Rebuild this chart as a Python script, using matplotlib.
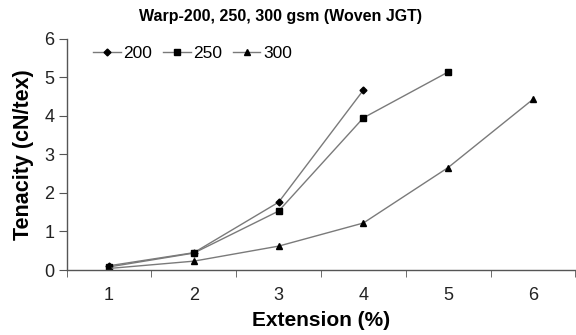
import matplotlib
matplotlib.use("Agg")
import matplotlib.pyplot as plt
import numpy as np

plt.rcParams['font.family'] = ['Liberation Sans', 'DejaVu Sans']

extension = [1, 2, 3, 4, 5, 6]
series_names = ["200", "250", "300"]
tenacity_200 = [0.11, 0.45, 1.76, 4.67]
tenacity_250 = [0.08, 0.44, 1.53, 3.95, 5.14]
tenacity_300 = [0.04, 0.23, 0.62, 1.22, 2.66, 4.43]

fig = plt.figure(figsize=(5.76, 3.35), dpi=100)
ax = fig.add_axes([0.1158, 0.194, 0.883, 0.690])

line_color = "#7a7a7a"
markers = ["D", "s", "^"]
sizes = [3.5, 4.5, 5]
for name, vals, m, ms in zip(series_names, [tenacity_200, tenacity_250, tenacity_300], markers, sizes):
    ax.plot(extension[:len(vals)], vals, color=line_color, lw=1.0,
            marker=m, markersize=ms, markerfacecolor="black",
            markeredgecolor="black", label=name)

ax.set_xlim(0.5, 6.5)
ax.set_ylim(0, 6)
ax.set_yticks(range(0, 7))
ax.set_xticks(extension)
ax.set_xticks(np.arange(0.5, 7.0, 1.0), minor=True)
ax.tick_params(axis="x", which="major", length=0, pad=12, labelsize=13, labelcolor="#222222")
ax.tick_params(axis="x", which="minor", length=5, direction="out", color="#555555")
ax.tick_params(axis="y", length=6, direction="out", labelsize=13, color="#555555", pad=3,
               labelcolor="#222222")

for s in ["top", "right"]:
    ax.spines[s].set_visible(False)
for s in ["left", "bottom"]:
    ax.spines[s].set_color("#555555")
    ax.spines[s].set_linewidth(1.0)

ax.set_xlabel("Extension (%)", fontsize=15, fontweight="bold", labelpad=5)
ax.set_ylabel("Tenacity (cN/tex)", fontsize=15.5, fontweight="bold", labelpad=7)
fig.text(0.487, 0.952, "Warp-200, 250, 300 gsm (Woven JGT)", ha="center", va="center",
         fontsize=11.5, fontweight="bold")

ax.legend(loc="center left", ncol=3, frameon=False, fontsize=12.5,
          bbox_to_anchor=(0.052, 0.935), handlelength=1.6, handletextpad=0.15,
          columnspacing=0.6, borderpad=0.0, borderaxespad=0.0)

fig.savefig("out.png", dpi=100)
